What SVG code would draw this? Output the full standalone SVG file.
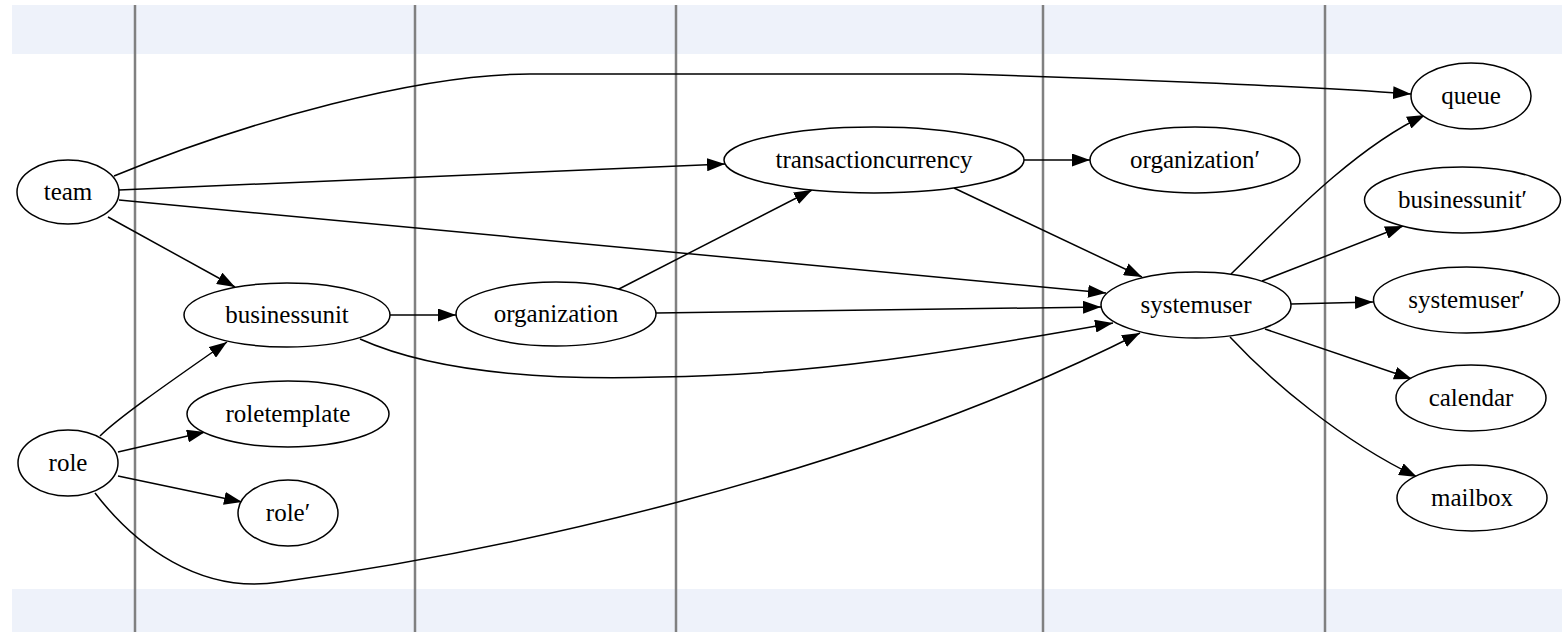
<svg xmlns="http://www.w3.org/2000/svg" width="1562" height="632" viewBox="0 0 1562 632">
  <style>
    .band { fill: #eef2fa; }
    .lane { stroke: #808080; stroke-width: 2.5; }
    .node ellipse { fill: #ffffff; stroke: #000000; stroke-width: 1.5; }
    .node text { font-family: "Liberation Serif", "Times New Roman", serif; font-size: 25px; fill: #000000; text-anchor: middle; }
    .edge { fill: none; stroke: #000000; stroke-width: 1.5; marker-end: url(#arrow); }
  </style>
  <defs>
    <marker id="arrow" markerUnits="userSpaceOnUse" viewBox="0 0 18 13" markerWidth="18" markerHeight="13" refX="18" refY="6.5" orient="auto">
      <path d="M0,0 L18,6.5 L0,13 Z" fill="#000000"/>
    </marker>
  </defs>

  <rect width="1562" height="632" fill="#ffffff"/>

  <!-- header and footer bands -->
  <g id="bands">
    <rect class="band" x="12" y="5" width="1550" height="49"/>
    <rect class="band" x="12" y="589" width="1550" height="43"/>
  </g>

  <!-- column separators -->
  <g id="lanes">
    <line class="lane" x1="135" y1="5" x2="135" y2="632"/>
    <line class="lane" x1="415" y1="5" x2="415" y2="632"/>
    <line class="lane" x1="676" y1="5" x2="676" y2="632"/>
    <line class="lane" x1="1043" y1="5" x2="1043" y2="632"/>
    <line class="lane" x1="1325" y1="5" x2="1325" y2="632"/>
  </g>

  <g id="edges">
    <path class="edge" d="M114,176 C250,120 420,74 530,74 L960,74 C1100,78 1300,86 1411,94"/>
    <path class="edge" d="M119,190 L725,164"/>
    <path class="edge" d="M119,200 L1106,293"/>
    <path class="edge" d="M108,217 L235,287"/>
    <path class="edge" d="M100,436 C120,416 180,375 227,342"/>
    <path class="edge" d="M118,452 L205,432"/>
    <path class="edge" d="M118,476 L242,502"/>
    <path class="edge" d="M95,493 C135,545 200,595 280,582 C480,555 850,480 1140,333"/>
    <path class="edge" d="M390,315 L456,315"/>
    <path class="edge" d="M360,339 C440,375 560,380 660,377 C820,375 960,350 1113,323"/>
    <path class="edge" d="M617,290 L812,190"/>
    <path class="edge" d="M656,313 L1101,307"/>
    <path class="edge" d="M1024,160 L1090,160"/>
    <path class="edge" d="M954,188 L1142,277"/>
    <path class="edge" d="M1231,274 C1275,232 1350,150 1425,115"/>
    <path class="edge" d="M1262,281 L1403,226"/>
    <path class="edge" d="M1291,304 L1373,302"/>
    <path class="edge" d="M1265,329 L1412,379"/>
    <path class="edge" d="M1230,337 C1270,380 1340,440 1417,477"/>
  </g>

  <g id="team" class="node"><ellipse cx="68" cy="192" rx="51" ry="32"/><text x="68" y="200">team</text></g>
  <g id="role" class="node"><ellipse cx="68" cy="463" rx="50" ry="33"/><text x="68" y="471">role</text></g>
  <g id="businessunit" class="node"><ellipse cx="287" cy="315" rx="103" ry="32"/><text x="287" y="323">businessunit</text></g>
  <g id="roletemplate" class="node"><ellipse cx="288" cy="414" rx="101" ry="33"/><text x="288" y="422">roletemplate</text></g>
  <g id="role_prime" class="node"><ellipse cx="288" cy="513" rx="50" ry="33"/><text x="288" y="521">role′</text></g>
  <g id="organization" class="node"><ellipse cx="556" cy="314" rx="100" ry="32"/><text x="556" y="322">organization</text></g>
  <g id="transactioncurrency" class="node"><ellipse cx="874" cy="160" rx="150" ry="33"/><text x="874" y="168">transactioncurrency</text></g>
  <g id="organization_prime" class="node"><ellipse cx="1195" cy="160" rx="105" ry="33"/><text x="1195" y="168">organization′</text></g>
  <g id="systemuser" class="node"><ellipse cx="1196" cy="305" rx="95" ry="33"/><text x="1196" y="313">systemuser</text></g>
  <g id="queue" class="node"><ellipse cx="1471" cy="96" rx="60" ry="33"/><text x="1471" y="104">queue</text></g>
  <g id="businessunit_prime" class="node"><ellipse cx="1462.5" cy="200" rx="98" ry="33"/><text x="1462.5" y="208">businessunit′</text></g>
  <g id="systemuser_prime" class="node"><ellipse cx="1466.5" cy="300" rx="93" ry="33"/><text x="1466.5" y="308">systemuser′</text></g>
  <g id="calendar" class="node"><ellipse cx="1471" cy="398" rx="75" ry="33"/><text x="1471" y="406">calendar</text></g>
  <g id="mailbox" class="node"><ellipse cx="1472" cy="498" rx="75" ry="33"/><text x="1472" y="506">mailbox</text></g>
</svg>
